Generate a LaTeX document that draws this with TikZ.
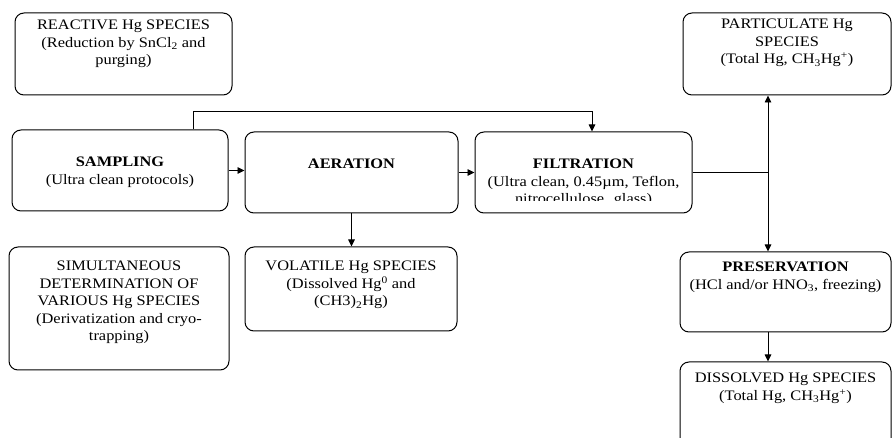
\documentclass[tikz,border=0pt]{standalone}
\usepackage{fontspec}
\setmainfont{Liberation Serif}[FakeStretch=1.13]
\usetikzlibrary{arrows.meta}
\newcommand\boxtext[1]{\begin{tabular}[t]{@{}c@{}}#1\end{tabular}}
\begin{document}
\begin{tikzpicture}[x=1pt,y=-1pt,
  box/.style={draw, line width=1pt, rounded corners=9pt, inner sep=0pt},
  txt/.style={font=\fontsize{14.5}{17.5}\selectfont, inner sep=0pt, anchor=base},
  conn/.style={line width=0.9pt},
  arr/.style={conn, -{Triangle[length=7pt,width=6.5pt]}}]
\useasboundingbox[fill=white] (0,0) rectangle (892,438);
% boxes
\node[box, minimum width=217pt, minimum height=82pt] (reac) at (123.5,54) {};
\node[box, minimum width=216pt, minimum height=81pt] (samp) at (120,170.5) {};
\node[box, minimum width=213pt, minimum height=81pt] (aer) at (351.5,172.5) {};
\node[box, minimum width=217pt, minimum height=81pt] (filt) at (583.5,172.5) {};
\node[box, minimum width=208pt, minimum height=82pt] (part) at (787,54) {};
\node[box, minimum width=211pt, minimum height=80pt] (pres) at (785.5,292) {};
\node[box, minimum width=220pt, minimum height=123pt] (simul) at (119,308.5) {};
\node[box, minimum width=212pt, minimum height=84pt] (vol) at (351,289) {};
\node[box, minimum width=211pt, minimum height=86pt] (diss) at (785.5,405) {};
% texts
\node[txt] (reac-t) at (123.5,30) {\boxtext{REACTIVE Hg SPECIES\\(Reduction by SnCl\textsubscript{2} and\\purging)}};
\node[txt] (samp-t) at (120,167) {\boxtext{\textbf{SAMPLING}\\(Ultra clean protocols)}};
\node[txt] (aer-t) at (351.5,169) {\textbf{AERATION}};
\begin{scope}
\clip (475,132) rectangle (692,201);
\node[txt] (filt-t) at (583.5,169) {\boxtext{\textbf{FILTRATION}\\(Ultra clean, 0.45µm, Teflon,\\nitrocellulose. glass)}};
\end{scope}
\node[txt] (part-t) at (787,29) {\boxtext{PARTICULATE Hg\\SPECIES\\(Total Hg, CH\textsubscript{3}Hg\textsuperscript{+})}};
\node[txt] (pres-t) at (785.5,272) {\boxtext{\textbf{PRESERVATION}\\(HCl and/or HNO\textsubscript{3}, freezing)}};
\node[txt] (simul-t) at (119,271) {\boxtext{SIMULTANEOUS\\DETERMINATION OF\\VARIOUS Hg SPECIES\\(Derivatization and cryo-\\trapping)}};
\node[txt] (vol-t) at (351,271) {\boxtext{VOLATILE Hg SPECIES\\(Dissolved Hg\textsuperscript{0} and\\(CH3)\textsubscript{2}Hg)}};
\node[txt] (diss-t) at (785.5,383) {\boxtext{DISSOLVED Hg SPECIES\\(Total Hg, CH\textsubscript{3}Hg\textsuperscript{+})}};
% connectors
\coordinate (c1) at (193,111);
\coordinate (c2) at (592,111);
\coordinate (split) at (768,170);
\draw[arr] (samp.east) -- (samp.east -| aer.west);
\draw[arr] (aer.east) -- (aer.east -| filt.west);
\draw[arr] (c1 |- samp.north) -- (c1) -- (c2) -- (c2 |- filt.north);
\draw[arr] (aer.south) -- (aer.south |- vol.north);
\draw[conn] (filt.east) -- (filt.east -| split);
\draw[arr] (filt.east -| split) -- (split |- part.south);
\draw[arr] (filt.east -| split) -- (split |- pres.north);
\draw[arr] (pres.south -| split) -- (split |- diss.north);
\end{tikzpicture}
\end{document}
